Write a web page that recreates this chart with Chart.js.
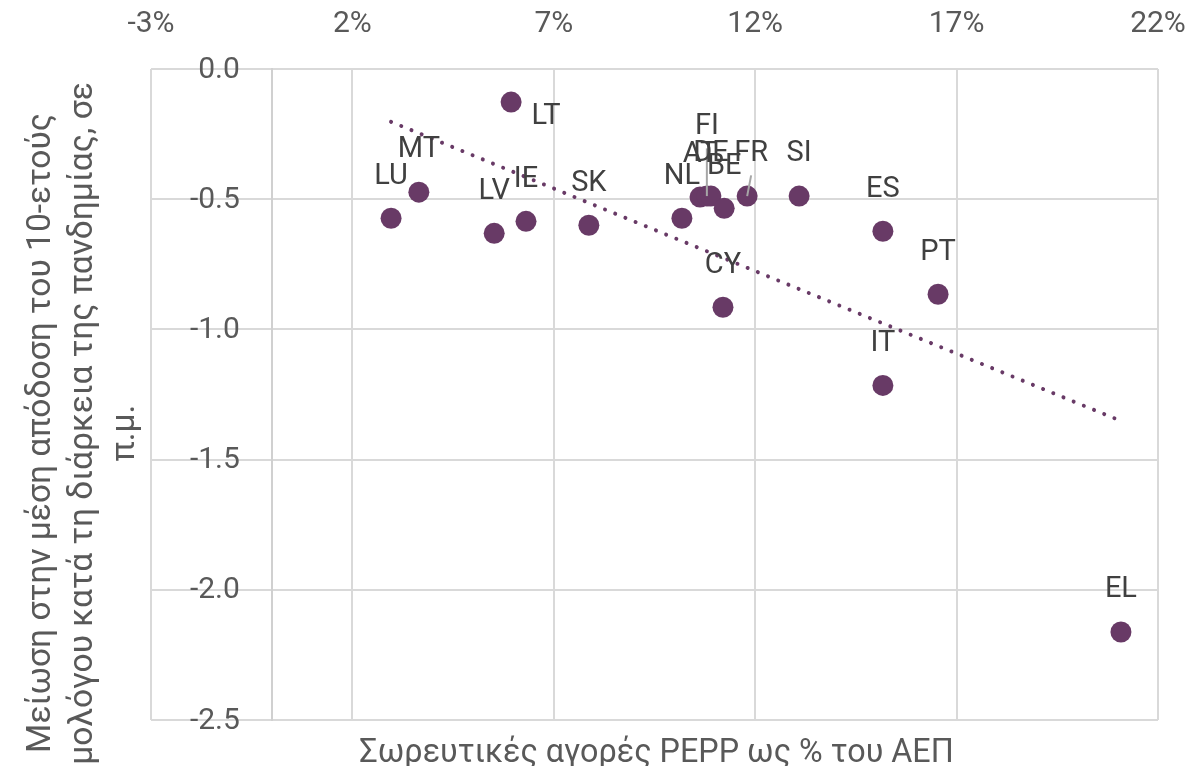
<!DOCTYPE html>
<html>
<head>
<meta charset="utf-8">
<script src="https://cdn.jsdelivr.net/npm/chart.js@4/dist/chart.umd.min.js"></script>
<style>
  html, body { margin: 0; padding: 0; background: #ffffff; }
  canvas { display: block; }
</style>
</head>
<body>
<canvas id="c" width="1188" height="766"></canvas>
<script>
// ---- Data ----
const countries = ['LU', 'MT', 'LT', 'LV', 'IE', 'SK', 'NL', 'AT', 'FI', 'DE', 'BE', 'FR', 'SI', 'CY', 'ES', 'PT', 'IT', 'EL'];
const peppPurchases = [2.96, 3.65, 5.94, 5.52, 6.31, 7.87, 10.18, 10.63, 10.80, 10.90, 11.23, 11.80, 13.09, 11.20, 15.17, 16.54, 15.17, 21.08];
const yieldDecline = [-0.573, -0.473, -0.127, -0.631, -0.585, -0.600, -0.573, -0.492, -0.488, -0.488, -0.535, -0.488, -0.488, -0.915, -0.623, -0.865, -1.215, -2.162];
const xTickLabelSuffix = '%';

const xTitle = 'Σωρευτικές αγορές PEPP ως % του ΑΕΠ';
const yTitleLines = ['Μείωση στην μέση απόδοση του 10-ετούς', 'ομολόγου κατά τη διάρκεια της πανδημίας, σε', 'π.μ.'];

// ---- Style ----
const PURPLE = '#683a66';
const FONT = 'Roboto';
const TICK_SIZE = 30;
const LABEL_SIZE = 29;
const X_TITLE_SIZE = 32.3;
const Y_TITLE_SIZE = 33.6;
const yTickFormat = v => v.toFixed(1);

// label placement (offset of label centre from point centre)
const defaultLabelOffset = { dx: 0, dy: -45 };
const specialLabelOffsets = {
  LT: { dx: 35, dy: 12 },
  FI: { dx: 0, dy: -72, leader: true },
  FR: { dx: 4, dy: -45, leader: true }
};

const points = countries.map((c, i) => ({ x: peppPurchases[i], y: yieldDecline[i] }));

// Linear least-squares trendline (as Excel's linear trendline)
function linearFit(xs, ys) {
  const n = xs.length;
  const mx = xs.reduce((a, b) => a + b, 0) / n;
  const my = ys.reduce((a, b) => a + b, 0) / n;
  let sxy = 0, sxx = 0;
  for (let i = 0; i < n; i++) { sxy += (xs[i] - mx) * (ys[i] - my); sxx += (xs[i] - mx) ** 2; }
  const slope = sxy / sxx;
  return { slope, intercept: my - slope * mx };
}
const fit = linearFit(peppPurchases, yieldDecline);
const xMin = Math.min(...peppPurchases), xMax = Math.max(...peppPurchases);
const trendPoints = [
  { x: xMin, y: fit.intercept + fit.slope * xMin },
  { x: xMax, y: fit.intercept + fit.slope * xMax }
];

// y tick labels: right-aligned next to the vertical axis line (which crosses x at 0)
const yTickLabelPlugin = {
  id: 'yTickLabels',
  afterDraw(chart) {
    const ctx = chart.ctx;
    const ys = chart.scales.y, xs = chart.scales.x;
    const axisX = xs.getPixelForValue(0);
    ctx.save();
    ctx.font = TICK_SIZE + 'px ' + FONT;
    ctx.fillStyle = '#595959';
    ctx.textAlign = 'right';
    ctx.textBaseline = 'middle';
    ys.ticks.forEach(t => {
      ctx.fillText(yTickFormat(t.value), axisX - 32, ys.getPixelForValue(t.value) + 1);
    });
    ctx.restore();
  }
};

const labelPlugin = {
  id: 'pointLabels',
  afterDatasetsDraw(chart) {
    const ctx = chart.ctx;
    const meta = chart.getDatasetMeta(0);
    ctx.save();
    ctx.font = LABEL_SIZE + 'px ' + FONT;
    const cap = LABEL_SIZE * 0.711;
    meta.data.forEach((el, i) => {
      const off = specialLabelOffsets[countries[i]];
      if (off && off.leader) {
        const cx = el.x + off.dx, cy = el.y + off.dy;
        ctx.strokeStyle = '#a6a6a6';
        ctx.lineWidth = 2;
        ctx.beginPath();
        ctx.moveTo(cx, cy + cap / 2 + 14);
        ctx.lineTo(el.x, el.y);
        ctx.stroke();
      }
    });
    ctx.fillStyle = '#404040';
    ctx.textAlign = 'center';
    ctx.textBaseline = 'alphabetic';
    meta.data.forEach((el, i) => {
      const off = specialLabelOffsets[countries[i]] || defaultLabelOffset;
      ctx.fillText(countries[i], el.x + off.dx, el.y + off.dy + cap / 2);
    });
    ctx.restore();
  }
};

const titlePlugin = {
  id: 'axisTitles',
  afterDraw(chart) {
    const ctx = chart.ctx;
    const ca = chart.chartArea;
    ctx.save();
    ctx.fillStyle = '#595959';
    ctx.textAlign = 'center';
    ctx.textBaseline = 'alphabetic';
    ctx.font = X_TITLE_SIZE + 'px ' + FONT;
    ctx.fillText(xTitle, (ca.left + ca.right) / 2 + 2, 762);
    ctx.font = Y_TITLE_SIZE + 'px ' + FONT;
    const baselines = [50, 92, 134];
    yTitleLines.forEach((line, i) => {
      ctx.save();
      ctx.translate(baselines[i], 433);
      ctx.rotate(-Math.PI / 2);
      ctx.fillText(line, 0, 0);
      ctx.restore();
    });
    ctx.restore();
  }
};

new Chart(document.getElementById('c'), {
  type: 'scatter',
  data: {
    datasets: [
      {
        label: 'PEPP',
        data: points,
        backgroundColor: PURPLE,
        borderColor: PURPLE,
        borderWidth: 0,
        pointRadius: 10.5,
        pointHoverRadius: 10.5,
        order: 1
      },
      {
        type: 'line',
        label: 'trend',
        data: trendPoints,
        borderColor: PURPLE,
        borderWidth: 4,
        borderDash: [0.01, 11],
        borderCapStyle: 'round',
        pointRadius: 0,
        fill: false,
        order: 0
      }
    ]
  },
  options: {
    responsive: false,
    animation: false,
    devicePixelRatio: 1,
    layout: { padding: { left: 151, right: 30, top: 0, bottom: 46 } },
    plugins: { legend: { display: false }, tooltip: { enabled: false }, title: { display: false } },
    scales: {
      x: {
        type: 'linear',
        position: 'top',
        min: -3,
        max: 22,
        ticks: {
          stepSize: 5,
          callback: v => v + xTickLabelSuffix,
          font: { family: FONT, size: TICK_SIZE },
          color: '#595959',
          padding: 27,
          maxRotation: 0,
          autoSkip: false
        },
        grid: { color: '#d9d9d9', lineWidth: 2, drawTicks: false },
        border: { display: false },
        afterFit(s) { s.height = 69; s.paddingLeft = 0; s.paddingRight = 0; }
      },
      // value axis crossing the x axis at 0 (grid + axis line); labels drawn by yTickLabelPlugin
      y: {
        type: 'linear',
        position: { x: 0 },
        min: -2.5,
        max: 0,
        ticks: { stepSize: 0.5, display: false, callback: yTickFormat },
        grid: { color: '#d9d9d9', lineWidth: 2, drawTicks: false },
        border: { display: true, color: '#d0d0d0', width: 2 },
        afterFit(s) { s.width = 0; s.paddingTop = 0; s.paddingBottom = 0; }
      }
    }
  },
  plugins: [yTickLabelPlugin, labelPlugin, titlePlugin]
});
</script>
</body>
</html>
